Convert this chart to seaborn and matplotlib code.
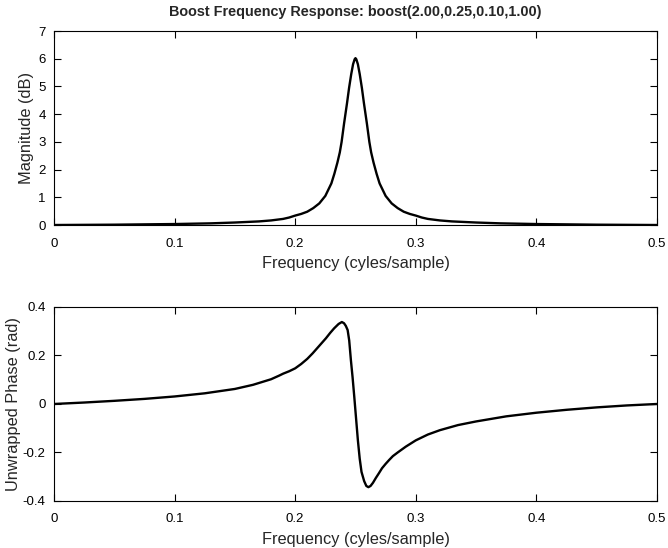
import matplotlib
matplotlib.use("Agg")
import matplotlib.pyplot as plt
import seaborn as sns
import pandas as pd

title = "Boost Frequency Response: boost(2.00,0.25,0.10,1.00)"
xlabel = "Frequency (cyles/sample)"
mag_ylabel = "Magnitude (dB)"
phase_ylabel = "Unwrapped Phase (rad)"

mag_freq = [0.0, 0.05, 0.10, 0.13, 0.15, 0.17, 0.18, 0.19, 0.195, 0.20, 0.205, 0.21,
            0.215, 0.22, 0.225, 0.23, 0.2325, 0.235, 0.237, 0.2385, 0.2405, 0.243,
            0.2447, 0.2465, 0.248, 0.2493, 0.25,
            0.2507, 0.252, 0.2535, 0.2553, 0.257, 0.2595, 0.2615, 0.263, 0.265, 0.2675,
            0.27, 0.275, 0.28, 0.285, 0.29, 0.295, 0.30, 0.305, 0.31, 0.32, 0.33,
            0.35, 0.37, 0.40, 0.45, 0.50]
mag_db = [0.0, 0.012, 0.035, 0.06, 0.09, 0.13, 0.165, 0.22, 0.27, 0.34, 0.40, 0.48,
          0.61, 0.78, 1.05, 1.5, 1.85, 2.25, 2.62, 3.0, 3.65, 4.4,
          4.95, 5.45, 5.8, 5.98, 6.02,
          5.98, 5.8, 5.45, 4.95, 4.4, 3.65, 3.0, 2.62, 2.25, 1.85,
          1.5, 1.05, 0.78, 0.61, 0.48, 0.40, 0.34, 0.27, 0.22, 0.165, 0.13,
          0.09, 0.06, 0.035, 0.012, 0.0]

phase_freq = [0.0, 0.025, 0.05, 0.075, 0.10, 0.125, 0.15, 0.165, 0.18, 0.1867, 0.19,
              0.195, 0.20, 0.205, 0.21, 0.2145, 0.22, 0.2255, 0.229, 0.2323,
              0.236, 0.2387, 0.2405, 0.242, 0.2435, 0.2448, 0.2462, 0.2476, 0.249,
              0.2505, 0.252, 0.2535, 0.255, 0.2572, 0.259, 0.2607, 0.2625, 0.2645,
              0.2669, 0.2695, 0.272, 0.275, 0.2779, 0.281, 0.285, 0.2917, 0.30, 0.31,
              0.32, 0.335, 0.35, 0.375, 0.40, 0.425, 0.45, 0.475, 0.50]
phase_rad = [0.0, 0.006, 0.013, 0.021, 0.031, 0.044, 0.062, 0.079, 0.102, 0.117, 0.125,
             0.135, 0.147, 0.165, 0.186, 0.209, 0.24, 0.271, 0.293, 0.312,
             0.330, 0.338, 0.333, 0.322, 0.305, 0.262, 0.181, 0.11, 0.03,
             -0.06, -0.15, -0.225, -0.28, -0.318, -0.338, -0.343, -0.338, -0.325,
             -0.305, -0.285, -0.265, -0.247, -0.231, -0.215, -0.20, -0.176, -0.150, -0.126,
             -0.108, -0.087, -0.072, -0.051, -0.036, -0.024, -0.014, -0.006, 0.0]

x_ticks = [0, 0.1, 0.2, 0.3, 0.4, 0.5]
x_ticklabels = ["0", "0.1", "0.2", "0.3", "0.4", "0.5"]
mag_yticks = [0, 1, 2, 3, 4, 5, 6, 7]
phase_yticks = [-0.4, -0.2, 0, 0.2, 0.4]
phase_yticklabels = ["-0.4", "-0.2", "0", "0.2", "0.4"]

sns.set_style("ticks")
plt.rcParams["font.family"] = ["Liberation Sans", "DejaVu Sans"]
plt.rcParams["xtick.direction"] = "in"
plt.rcParams["ytick.direction"] = "in"
plt.rcParams["lines.solid_joinstyle"] = "round"

mag_df = pd.DataFrame({"f": mag_freq, "m": mag_db})
phase_df = pd.DataFrame({"f": phase_freq, "p": phase_rad})

fig = plt.figure(figsize=(6.68, 5.48), dpi=100)
ax1 = fig.add_axes([0.0808, 0.5894, 0.9027, 0.354])
ax2 = fig.add_axes([0.0808, 0.0858, 0.9027, 0.354])

sns.lineplot(data=mag_df, x="f", y="m", ax=ax1, color="black", linewidth=1.7,
             estimator=None, sort=False)
sns.lineplot(data=phase_df, x="f", y="p", ax=ax2, color="black", linewidth=1.7,
             estimator=None, sort=False)

for ax in (ax1, ax2):
    ax.set_xlim(0, 0.5)
    ax.set_xticks(x_ticks)
    ax.set_xticklabels(x_ticklabels)
    ax.set_xlabel(xlabel, fontsize=11.8, labelpad=5)
    ax.tick_params(axis="both", which="both", direction="in", top=True, right=True,
                   length=5, width=0.8, labelsize=9.5, colors="black")
    ax.tick_params(axis="x", pad=9)
    ax.tick_params(axis="y", pad=6)
    for s in ax.spines.values():
        s.set_visible(True)
        s.set_linewidth(0.8)
        s.set_color("black")

ax1.set_ylim(0, 7)
ax1.set_yticks(mag_yticks)
ax1.set_ylabel(mag_ylabel, fontsize=11.8, labelpad=3)
ax1.set_title(title, fontsize=10.4, fontweight="bold", pad=11)

ax2.set_ylim(-0.4, 0.4)
ax2.set_yticks(phase_yticks)
ax2.set_yticklabels(phase_yticklabels)
ax2.set_ylabel(phase_ylabel, fontsize=11.8, labelpad=1)

fig.savefig("out.png", dpi=100)
